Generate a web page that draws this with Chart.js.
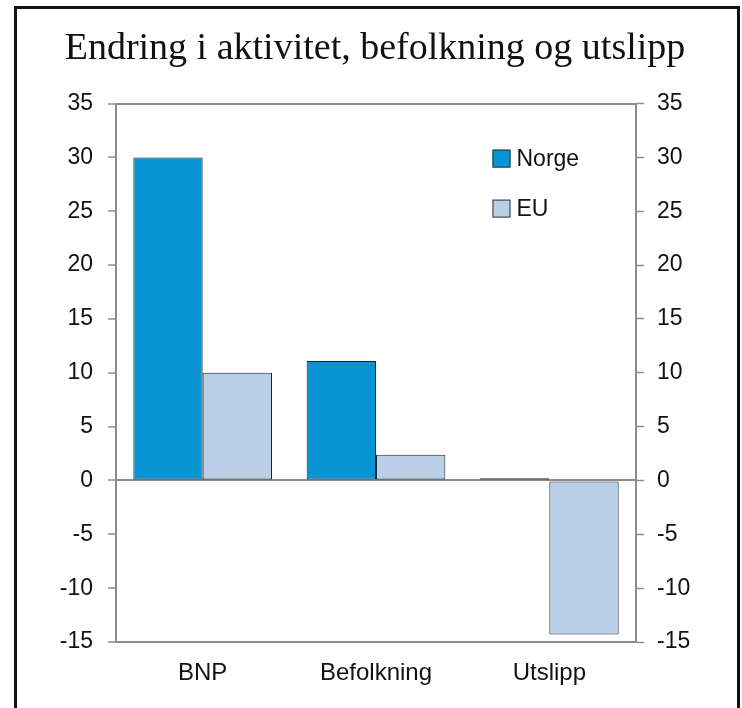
<!DOCTYPE html>
<html>
<head>
<meta charset="utf-8">
<script src="https://cdn.jsdelivr.net/npm/chart.js@4"></script>
<style>
  html, body { margin: 0; padding: 0; background: #fff; overflow: hidden; }
  #wrap { position: absolute; left: 0; top: 0; width: 742px; height: 708px; }
  #frame { position: absolute; left: 14px; top: 6px; width: 720px; height: 760px; border: 3px solid #111; pointer-events: none; }
</style>
</head>
<body>
<div id="wrap">
  <canvas id="chart" width="742" height="708"></canvas>
  <div id="frame"></div>
</div>
<script>
// Data
const categories = ['BNP', 'Befolkning', 'Utslipp'];
const norgeValues = [30, 11.1, 0.2];
const euValues = [10, 2.4, -14.3];
const yTicks = [35, 30, 25, 20, 15, 10, 5, 0, -5, -10, -15];

const axisGray = '#8c8c8c';
const sansFont = '"Liberation Sans", Arial, sans-serif';

// Legend drawn inside the plot area
const innerLegend = {
  id: 'innerLegend',
  afterDraw(chart) {
    const ctx = chart.ctx;
    const area = chart.chartArea;
    const x0 = area.left + (area.right - area.left) * 0.724;
    let y = area.top + 55;
    ctx.save();
    ctx.font = '23px ' + sansFont;
    ctx.textBaseline = 'middle';
    chart.data.datasets.forEach(ds => {
      ctx.fillStyle = ds.backgroundColor;
      ctx.fillRect(x0, y - 9, 18, 18);
      ctx.strokeStyle = '#333';
      ctx.lineWidth = 1;
      ctx.strokeRect(x0 + 0.5, y - 8.5, 17, 17);
      ctx.fillStyle = '#111';
      ctx.fillText(ds.label, x0 + 24, y + 1);
      y += 50;
    });
    ctx.restore();
  }
};

function lineAt(values) {
  return ctx => values.includes(ctx.tick && ctx.tick.value) ? axisGray : 'rgba(0,0,0,0)';
}

new Chart(document.getElementById('chart'), {
  type: 'bar',
  data: {
    labels: categories,
    datasets: [
      {
        label: 'Norge',
        data: norgeValues,
        backgroundColor: '#0995d3',
        borderColor: '#222',
        borderWidth: 1,
        borderSkipped: false,
        categoryPercentage: 0.8,
        barPercentage: 1.0
      },
      {
        label: 'EU',
        data: euValues,
        backgroundColor: '#b9cfe8',
        borderColor: '#222',
        borderWidth: 1,
        borderSkipped: false,
        categoryPercentage: 0.8,
        barPercentage: 1.0
      }
    ]
  },
  options: {
    responsive: false,
    animation: false,
    layout: { padding: { top: 0, left: 8, right: 0, bottom: 0 } },
    plugins: {
      legend: { display: false },
      tooltip: { enabled: false },
      title: {
        display: true,
        text: 'Endring i aktivitet, befolkning og utslipp',
        color: '#111',
        font: { family: '"Liberation Serif", "Times New Roman", serif', size: 38, weight: 'normal' },
        padding: { top: 26, bottom: 32 }
      }
    },
    scales: {
      x: {
        grid: { display: false, drawTicks: false },
        border: { display: true, color: axisGray, width: 2 },
        ticks: {
          color: '#111',
          padding: 17,
          font: { family: sansFont, size: 24 }
        },
        afterFit(scale) { scale.height = 66; }
      },
      y: {
        min: -15,
        max: 35,
        afterBuildTicks(scale) { scale.ticks = yTicks.map(v => ({ value: v })); },
        grid: {
          color: lineAt([35, 0, -15]),
          lineWidth: 2,
          tickColor: axisGray,
          tickLength: 8,
          tickWidth: 1.5
        },
        border: { display: true, color: axisGray, width: 2 },
        ticks: {
          color: '#111',
          padding: 15,
          font: { family: sansFont, size: 23 }
        },
        afterFit(scale) { scale.width = 108; }
      },
      y2: {
        position: 'right',
        min: -15,
        max: 35,
        afterBuildTicks(scale) { scale.ticks = yTicks.map(v => ({ value: v })); },
        grid: {
          drawOnChartArea: false,
          tickColor: axisGray,
          tickLength: 8,
          tickWidth: 1.5
        },
        border: { display: true, color: axisGray, width: 2 },
        ticks: {
          color: '#111',
          padding: 13,
          font: { family: sansFont, size: 23 }
        },
        afterFit(scale) { scale.width = 106; }
      }
    }
  },
  plugins: [innerLegend]
});
</script>
</body>
</html>
